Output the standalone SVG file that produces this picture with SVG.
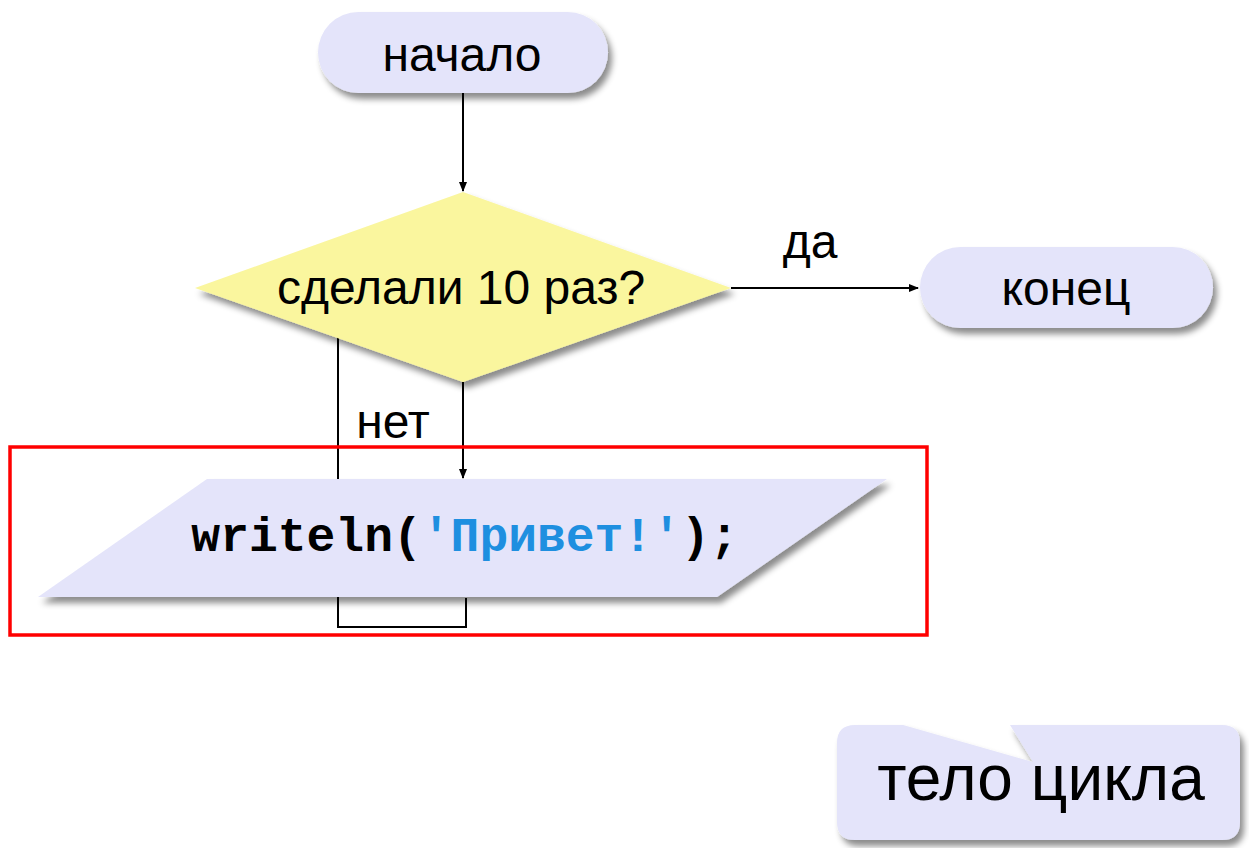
<svg xmlns="http://www.w3.org/2000/svg" width="1249" height="848" viewBox="0 0 1249 848">
<style>
.t{font-family:"Liberation Sans",Arial,sans-serif;font-size:48px;fill:#000;text-anchor:middle}
.code{font-family:"Liberation Mono","Courier New",monospace;font-weight:bold;font-size:48px;text-anchor:middle}
.ln{stroke:#000;stroke-width:2;fill:none}
.lav{fill:#e4e4fa}
.yel{fill:#faf69e}
</style>
<defs>
<filter id="sh" x="-10%" y="-20%" width="125%" height="150%">
<feDropShadow dx="4" dy="6" stdDeviation="3" flood-color="#000" flood-opacity="0.45"/>
</filter>
<marker id="ar" markerWidth="10" markerHeight="10" refX="9" refY="5" orient="auto" markerUnits="userSpaceOnUse">
<path d="M0,1 L10,5 L0,9 z" fill="#000"/>
</marker>
</defs>
<rect width="1249" height="848" fill="#fff"/>
<g id="connectors">
<line class="ln" x1="463" y1="93" x2="463" y2="191" marker-end="url(#ar)"/>
<line class="ln" x1="731" y1="288" x2="918" y2="288" marker-end="url(#ar)"/>
<line class="ln" x1="463" y1="382" x2="463" y2="478" marker-end="url(#ar)"/>
<polyline class="ln" points="338,337 338,627 466,627 466,598"/>
</g>
<rect id="loop-body-frame" x="10" y="447" width="917" height="188" fill="none" stroke="#ff0000" stroke-width="3.5"/>
<g id="start">
<rect class="lav" x="318" y="12" width="290" height="81" rx="40.5" filter="url(#sh)"/>
<text class="t" x="462" y="71">начало</text>
</g>
<g id="decision">
<polygon class="yel" points="463,192 731,288 463,382 195,288" filter="url(#sh)"/>
<text class="t" x="461" y="304">сделали 10 раз?</text>
</g>
<g id="end">
<rect class="lav" x="920" y="247" width="293" height="81" rx="40.5" filter="url(#sh)"/>
<text class="t" x="1066" y="305">конец</text>
</g>
<g id="output">
<polygon class="lav" points="207,479 887,479 717,597 38,597" filter="url(#sh)"/>
<text class="code" x="465" y="551"><tspan fill="#000">writeln(</tspan><tspan fill="#1e8fe0">'Привет!'</tspan><tspan fill="#000">);</tspan></text>
</g>
<g id="labels">
<text class="t" x="810" y="258">да</text>
<text class="t" x="393" y="438">нет</text>
</g>
<g id="callout">
<path class="lav" d="M855,725 L903,725 L1033,762 L1010,725 L1222,725 Q1240,725 1240,743 L1240,822 Q1240,840 1222,840 L855,840 Q837,840 837,822 L837,743 Q837,725 855,725 Z" filter="url(#sh)"/>
<text class="t" x="1041" y="800" style="font-size:64px">тело цикла</text>
</g>
</svg>
